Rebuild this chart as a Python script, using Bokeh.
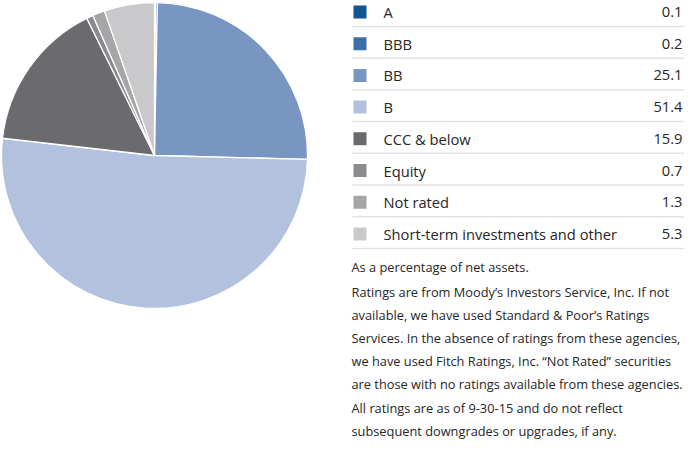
import numpy as np
from bokeh.plotting import figure
from bokeh.models import ColumnDataSource, Range1d
from bokeh.core.properties import value
from bokeh.embed import file_html
from bokeh.resources import INLINE

# ---- data ----
categories = ["A", "BBB", "BB", "B", "CCC & below", "Equity", "Not rated",
              "Short-term investments and other"]
values = [0.1, 0.2, 25.1, 51.4, 15.9, 0.7, 1.3, 5.3]
colors = ["#0F5590", "#3E6FA8", "#7896C1", "#B2C1DE",
          "#6B6B6F", "#8B8B8F", "#A6A6A9", "#C9C9CC"]
note_title = "As a percentage of net assets."
note_lines = [
    "Ratings are from Moody\u2019s Investors Service, Inc. If not",
    "available, we have used Standard & Poor\u2019s Ratings",
    "Services. In the absence of ratings from these agencies,",
    "we have used Fitch Ratings, Inc. \u201cNot Rated\u201d securities",
    "are those with no ratings available from these agencies.",
    "All ratings are as of 9-30-15 and do not reflect",
    "subsequent downgrades or upgrades, if any.",
]

# ---- layout ----
W, H = 684, 443
FONT = value("Open Sans")
TXT = "#262626"

p = figure(width=W, height=H, x_range=Range1d(0, W), y_range=Range1d(0, H),
           output_backend="svg", toolbar_location=None, min_border=0)
p.axis.visible = False
p.grid.visible = False
p.outline_line_color = None
p.background_fill_color = "white"
p.border_fill_color = "white"


def Y(t):
    return H - np.asarray(t, dtype=float)


# pie
cx, cy, r = 154, 155, 153
frac = np.array(values) / sum(values)
cum = np.concatenate([[0.0], np.cumsum(frac)])
start = np.pi / 2 - 2 * np.pi * cum[1:]
end = np.pi / 2 - 2 * np.pi * cum[:-1]
wsrc = ColumnDataSource(dict(start=start, end=end, color=colors))
p.wedge(x=cx, y=float(Y(cy)), radius=r, start_angle="start", end_angle="end",
        fill_color="color", line_color="white", line_width=1.3, source=wsrc)

# legend table
n = len(categories)
row_c = 11.5 + 31.7 * np.arange(n)
lsrc = ColumnDataSource(dict(
    ys=Y(row_c),
    yl=Y(row_c + 14.5),
    cat=categories,
    val=["%.1f" % v for v in values],
    color=colors,
))
p.rect(x=359.5, y="ys", width=13, height=13, fill_color="color",
       line_color=None, source=lsrc)
p.text(x=383, y="ys", text="cat", text_font=FONT, text_font_size="14.7px",
       text_color=TXT, text_baseline="middle", source=lsrc)
p.text(x=682, y="ys", text="val", text_font=FONT, text_font_size="14.7px",
       text_color=TXT, text_baseline="middle", text_align="right",
       source=lsrc)
p.segment(x0=352, x1=W, y0="yl", y1="yl", line_color="#E2E2E2",
          line_width=1.5, source=lsrc)

# notes
p.text(x=[351], y=[float(Y(266))], text=[note_title], text_font=FONT,
       text_font_size="12.8px", text_color=TXT, text_baseline="middle")
nl = np.arange(len(note_lines))
p.text(x=351, y=Y(291 + 23.2 * nl), text=note_lines, text_font=FONT,
       text_font_size="12.8px", text_color=TXT, text_baseline="middle")

open("out.html", "w").write(file_html(p, INLINE))
